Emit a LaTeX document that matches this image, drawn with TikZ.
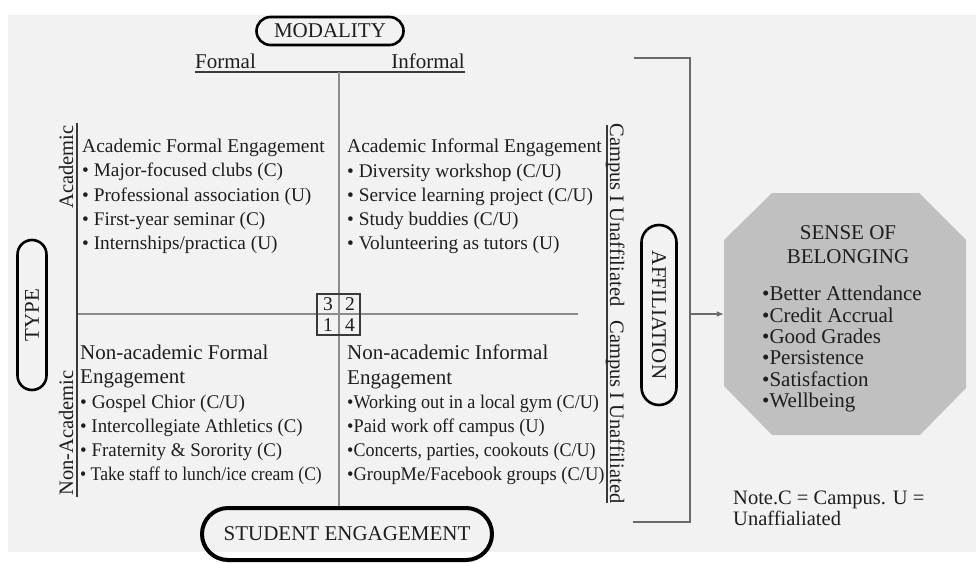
\documentclass[tikz,border=0pt]{standalone}
\usepackage{fontspec}
\setmainfont{Liberation Serif}
\usetikzlibrary{shapes.misc,arrows.meta}

\definecolor{pagebg}{HTML}{F2F2F2}
\definecolor{ink}{HTML}{1E1E1E}
\definecolor{axisgray}{HTML}{8C8C8C}
\definecolor{rulegray}{HTML}{3A3A3A}
\definecolor{octfill}{HTML}{C0C0C0}
\definecolor{bracketgray}{HTML}{6A6A6A}

% horizontally condensed line
\newcommand{\hsq}[2]{\scalebox{#1}[1]{#2}}
% larger heading line inside a quadrant
\newcommand{\qhead}[1]{{\fontsize{21}{24.2}\selectfont #1}}

\tikzset{
  pill/.style={draw=black, line width=2.6pt, rounded rectangle, inner sep=0pt,
    text=ink, font=\fontsize{21}{21}\selectfont},
  header/.style={inner sep=0pt, text=ink, font=\fontsize{21}{21}\selectfont},
  quad/.style={align=left, anchor=north west, inner sep=0pt, text=ink,
    font=\fontsize{19.3}{24.2}\selectfont},
  sidelabel/.style={inner sep=0pt, anchor=base, text=ink,
    font=\fontsize{20.5}{20.5}\selectfont},
  digit/.style={inner sep=0pt, text=ink, font=\fontsize{19.5}{19.5}\selectfont},
  axisline/.style={draw=axisgray, line width=1.6pt},
  baserule/.style={draw=rulegray, line width=1.4pt},
  bracketline/.style={draw=bracketgray, line width=2.2pt},
  outcome/.style={inner sep=0pt, text=ink, font=\fontsize{21}{21.4}\selectfont},
}

\begin{document}
\begin{tikzpicture}[x=1pt, y=-1pt]
  \useasboundingbox (0,0) rectangle (976,562);
  \fill[white] (0,0) rectangle (976,562);
  \fill[pagebg] (8,15) rectangle (976,552);

  % ---- axis titles ----
  \node[pill, minimum width=147pt, minimum height=28pt] (modality) at (330,31) {MODALITY};
  \node[pill, rotate=90, minimum width=150pt, minimum height=29pt] (type) at (32,315) {TYPE};
  \node[pill, rotate=-90, minimum width=180pt, minimum height=35pt] (affil) at (659,315) {AFFILIATION};
  \node[pill, line width=4pt, minimum width=290pt, minimum height=52pt] (engage) at (347,534) {STUDENT ENGAGEMENT};

  % ---- modality scale ----
  \node[header, anchor=base west] (formal) at (195,68) {Formal};
  \node[header, anchor=base east] (informal) at (465,68) {Informal};
  \coordinate (modL) at (195,72);
  \coordinate (modR) at (465,72);
  \draw[baserule] (modL) -- (modR);

  % ---- quadrant axes ----
  \coordinate (vtop) at (339,72);
  \draw[axisline] (vtop) -- (vtop |- engage.north);
  \coordinate (hleft) at (77,314);
  \coordinate (hright) at (578,314);
  \draw[axisline] (hleft) -- (hright);

  % ---- type scale (left) ----
  \coordinate (typeT) at (77,123);
  \coordinate (typeB) at (77,497);
  \draw[baserule] (typeT) -- (typeB);
  \node[sidelabel, rotate=90] (acad) at (73,167) {Academic};
  \node[sidelabel, rotate=90] (nonacad) at (73,433) {Non-Academic};

  % ---- affiliation scale (right) ----
  \coordinate (affT) at (607,125);
  \coordinate (affB) at (607,503);
  \draw[baserule] (affT) -- (affB);
  \node[sidelabel, rotate=-90] (affUp) at (610,215) {Campus I Unaffiliated};
  \node[sidelabel, rotate=-90] (affDown) at (610,412) {Campus I Unaffiliated};

  % ---- quadrant numbering ----
  \node[draw=rulegray, line width=1.5pt, minimum width=43pt, minimum height=41pt, inner sep=0pt] (cbox) at (338.5,314.5) {};
  \node[digit] (d3) at (328,304) {3};
  \node[digit] (d2) at (350,304) {2};
  \node[digit] (d1) at (328,325) {1};
  \node[digit] (d4) at (350,325) {4};

  % ---- quadrants ----
  \node[quad] (q1) at (82,139) {{\fontsize{19.5}{24.2}\selectfont Academic Formal Engagement}\\
    • Major-focused clubs (C)\\
    • Professional association (U)\\
    • First-year seminar (C)\\
    • Internships/practica (U)};
  \node[quad] (q2) at (347,139) {{\fontsize{19.5}{24.2}\selectfont Academic Informal Engagement}\\
    • Diversity workshop (C/U)\\
    • Service learning project (C/U)\\
    • Study buddies (C/U)\\
    • Volunteering as tutors (U)};
  \node[quad] (q3) at (80,345) {\qhead{Non-academic Formal}\\
    \qhead{Engagement}\\
    • Gospel Chior (C/U)\\
    \hsq{0.975}{• Intercollegiate Athletics (C)}\\
    \hsq{0.98}{• Fraternity \& Sorority (C)}\\
    \hsq{0.91}{• Take staff to lunch/ice cream (C)}};
  \node[quad] (q4) at (347,345) {\qhead{Non-academic Informal}\\
    \qhead{Engagement}\\
    \hsq{0.94}{•Working out in a local gym (C/U)}\\
    \hsq{0.95}{•Paid work off campus (U)}\\
    \hsq{0.935}{•Concerts, parties, cookouts (C/U)}\\
    \hsq{0.955}{•GroupMe/Facebook groups (C/U)}};

  % ---- bracket and arrow to outcome ----
  \coordinate (brTL) at (634,58);
  \coordinate (brTR) at (690,58);
  \coordinate (brBR) at (690,522);
  \coordinate (brBL) at (633,522);
  \coordinate (brMid) at (690,314);
  \draw[bracketline] (brTL) -- (brTR) -- (brBR) -- (brBL);

  % ---- outcome octagon ----
  \fill[octfill] (772,193) -- (919,193) -- (966,240) -- (966,388) -- (920,435)
    -- (772,435) -- (724,386) -- (724,240) -- cycle;
  \node[minimum width=242pt, minimum height=242pt, inner sep=0pt] (belong) at (845,314) {};
  \draw[bracketline, -{Latex[length=7pt,width=6pt]}] (brMid) -- (belong.west);
  \node[outcome, align=center, anchor=north, font=\fontsize{21}{24}\selectfont] (belongTitle) at (848,225) {SENSE OF\\BELONGING};
  \node[outcome, align=left, anchor=north west] (belongList) at (762,286) {•Better Attendance\\
    •Credit Accrual\\
    •Good Grades\\
    •Persistence\\
    •Satisfaction\\
    •Wellbeing};

  % ---- note ----
  \node[outcome, align=left, anchor=north west, font=\fontsize{20.5}{21}\selectfont] (note) at (733,491) {Note.C = Campus. U =\\Unaffialiated};
\end{tikzpicture}
\end{document}
